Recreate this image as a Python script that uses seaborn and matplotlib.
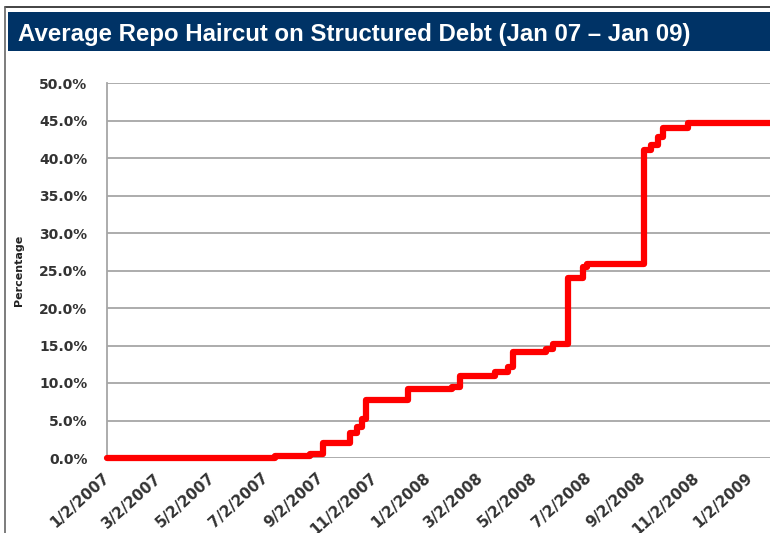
import matplotlib
matplotlib.use("Agg")
import matplotlib.pyplot as plt
from matplotlib.lines import Line2D
from matplotlib.patches import Rectangle
import seaborn as sns
import pandas as pd

title = "Average Repo Haircut on Structured Debt (Jan 07 \u2013 Jan 09)"
y_label = "Percentage"

step_dates = ["2007-01-02", "2007-07-12", "2007-08-21", "2007-09-04", "2007-10-05",
              "2007-10-13", "2007-10-19", "2007-10-23", "2007-12-10", "2008-01-29",
              "2008-02-07", "2008-03-18", "2008-04-01", "2008-04-07", "2008-05-15",
              "2008-05-23", "2008-06-09", "2008-06-26", "2008-06-30", "2008-09-03",
              "2008-09-11", "2008-09-19", "2008-09-25", "2008-10-23", "2009-01-24"]
haircut_pct = [0.0, 0.3, 0.5, 2.0, 3.3,
               4.1, 5.2, 7.7, 9.2, 9.5,
               10.9, 11.5, 12.2, 14.1, 14.6,
               15.2, 24.0, 25.5, 25.9, 41.1,
               41.8, 42.8, 44.0, 44.7, 44.7]

tick_dates = ["2007-01-02", "2007-03-02", "2007-05-02", "2007-07-02", "2007-09-02",
              "2007-11-02", "2008-01-02", "2008-03-02", "2008-05-02", "2008-07-02",
              "2008-09-02", "2008-11-02", "2009-01-02"]
tick_labels = ["1/2/2007", "3/2/2007", "5/2/2007", "7/2/2007", "9/2/2007",
               "11/2/2007", "1/2/2008", "3/2/2008", "5/2/2008", "7/2/2008",
               "9/2/2008", "11/2/2008", "1/2/2009"]
y_ticks = [0, 5, 10, 15, 20, 25, 30, 35, 40, 45, 50]
x_start, x_end = "2007-01-02", "2009-01-24"

sns.set_theme(style="white")
plt.rcParams['font.family'] = ['DejaVu Sans']

W, H = 770, 533
fig = plt.figure(figsize=(W / 100, H / 100), dpi=100)
fig.patch.set_facecolor("white")

# frame lines
fig.add_artist(Line2D([5 / W, 1], [1 - 7 / H, 1 - 7 / H], color="#222222", lw=1.2,
                      transform=fig.transFigure))
fig.add_artist(Line2D([5 / W, 5 / W], [0, 1 - 7 / H], color="#666666", lw=1.2,
                      transform=fig.transFigure))
# title bar
fig.add_artist(Rectangle((8 / W, 1 - 51 / H), 1 - 8 / W, 39 / H, transform=fig.transFigure,
                         facecolor="#003366", edgecolor="none"))
fig.text(18 / W, 1 - 41 / H, title, color="white", fontsize=17.3, fontweight="bold",
         family=["Liberation Sans", "DejaVu Sans"], va="baseline", ha="left")

ax = fig.add_axes([107 / W, 1 - 458 / H, 1 - 107 / W, (458 - 83) / H])
df = pd.DataFrame({"date": pd.to_datetime(step_dates), "haircut": haircut_pct})
sns.lineplot(data=df, x="date", y="haircut", ax=ax, color="#ff0000", linewidth=4.5,
             drawstyle="steps-post", clip_on=False, zorder=5)

ax.set_xlim(pd.Timestamp(x_start), pd.Timestamp(x_end))
ax.set_ylim(0, 50)
ax.set_yticks(y_ticks)
ax.set_yticklabels([f"{v:.1f}%" for v in y_ticks])
ax.set_xticks(pd.to_datetime(tick_dates))
ax.set_xticklabels(tick_labels, rotation=42, ha="right", va="center", rotation_mode="anchor")

for lbl in ax.get_yticklabels():
    lbl.set_fontsize(10)
    lbl.set_fontweight("bold")
    lbl.set_color("#333333")
for lbl in ax.get_xticklabels():
    lbl.set_fontsize(10.8)
    lbl.set_fontweight("bold")
    lbl.set_color("#333333")

ax.tick_params(axis="y", length=0, pad=14)
ax.tick_params(axis="x", length=0, pad=13)
ax.grid(axis="y", color="#a6a6a6", linewidth=1.3)
ax.grid(axis="x", visible=False)
for side in ["top", "right", "bottom"]:
    ax.spines[side].set_visible(False)
ax.spines["left"].set_color("#a6a6a6")
ax.spines["left"].set_linewidth(1.3)
ax.set_xlabel("")
ax.set_ylabel(y_label, fontsize=8, fontweight="bold", color="#222222")
ax.yaxis.set_label_coords(-83 / (W - 107), 0.5)

fig.savefig("out.png", dpi=100)
